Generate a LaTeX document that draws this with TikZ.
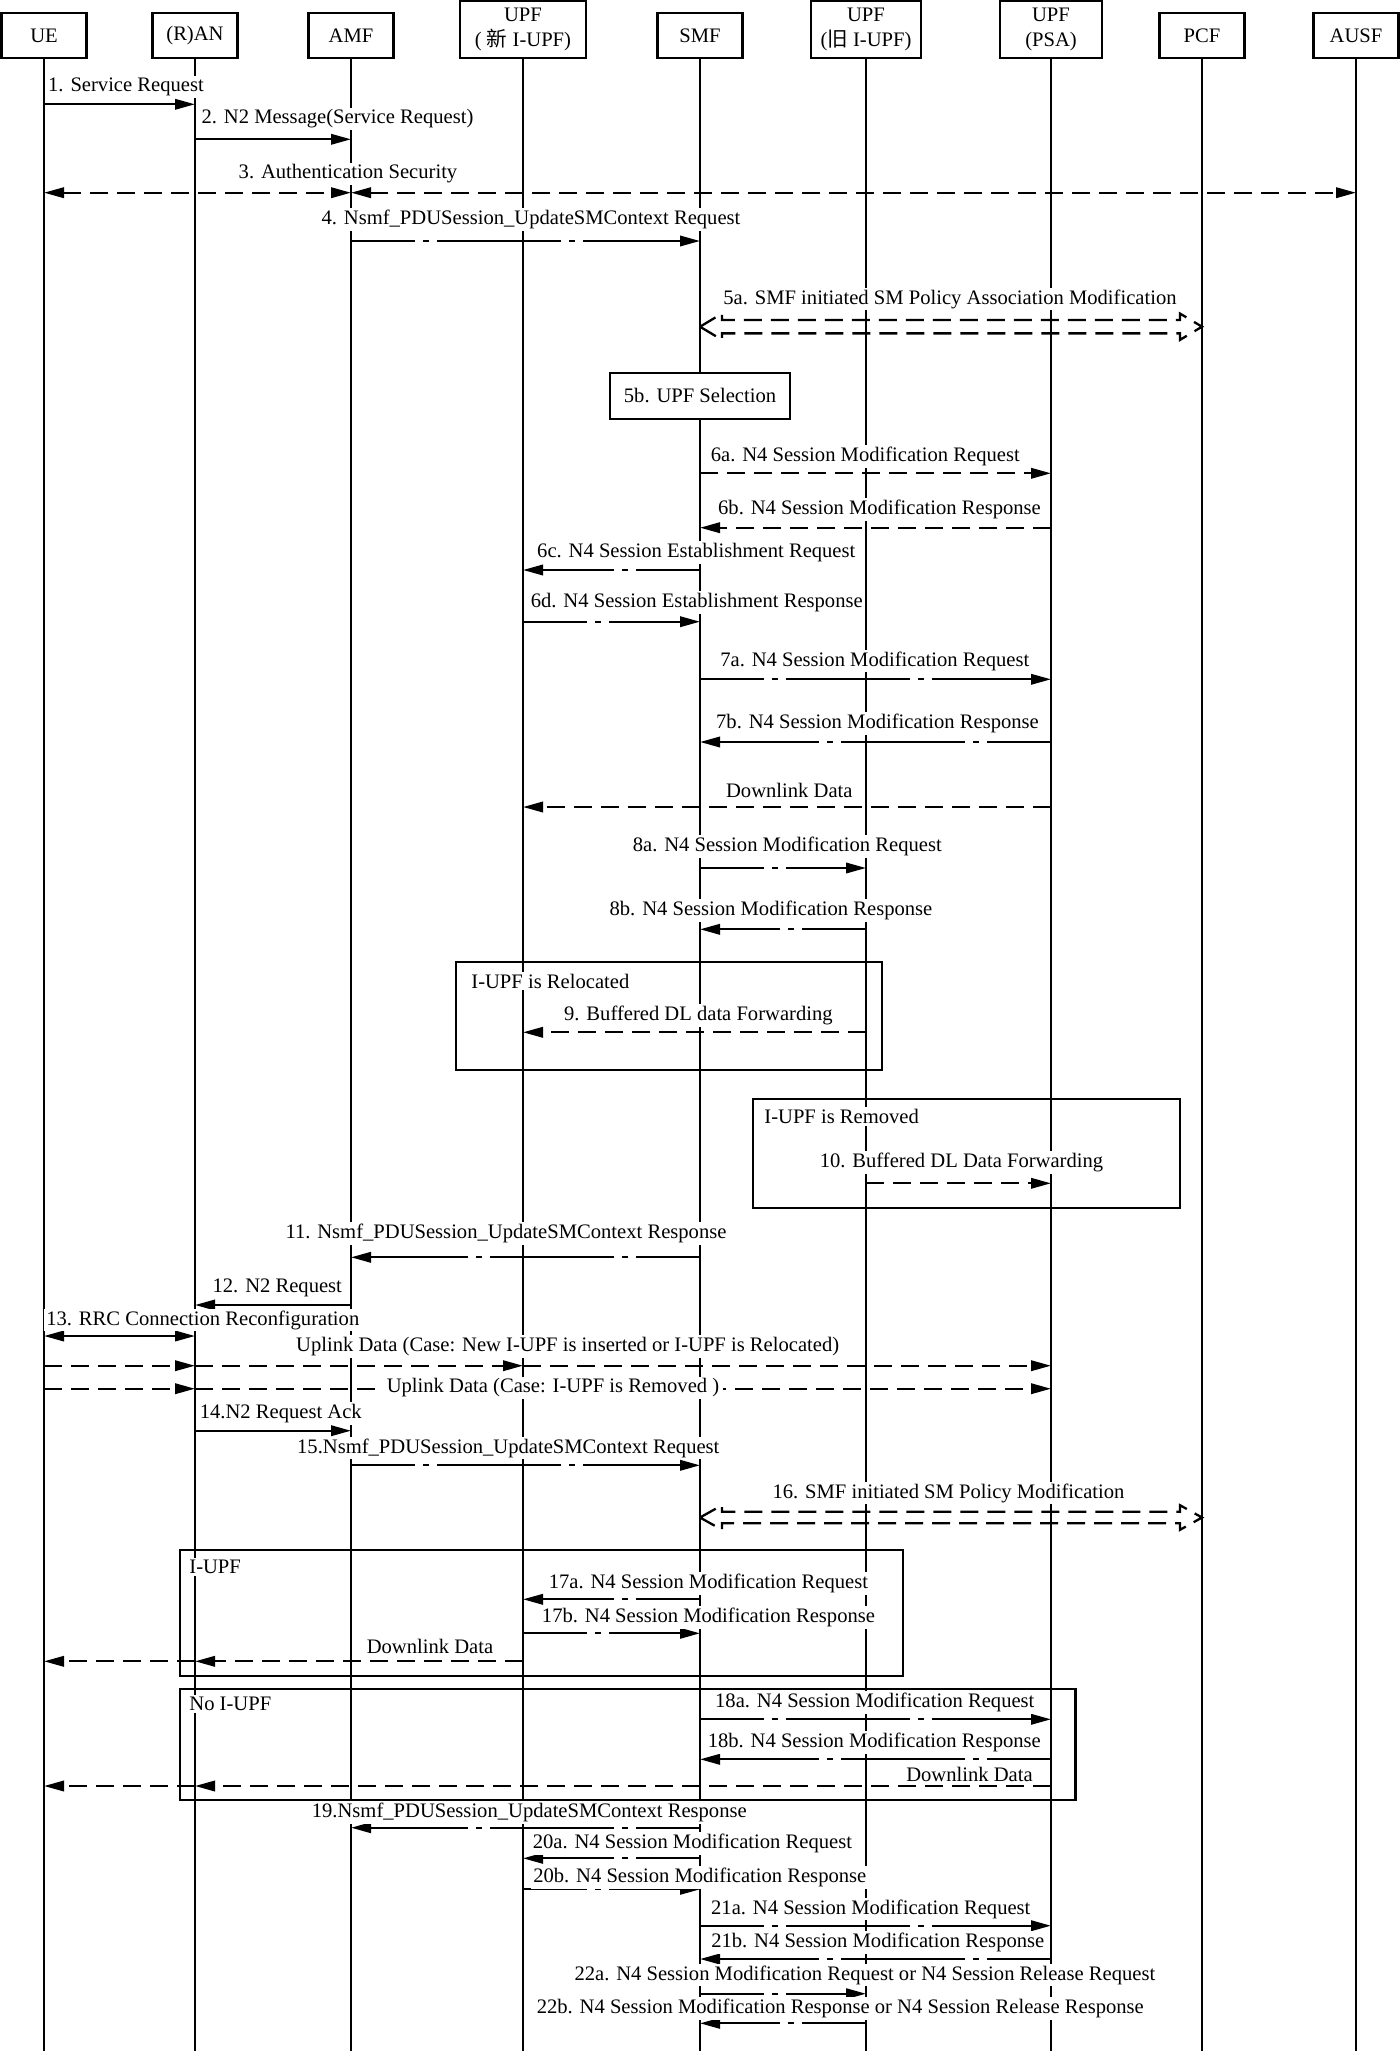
\documentclass[tikz,border=0pt]{standalone}
\usepackage{fontspec}
\setmainfont{Liberation Serif}
\newfontfamily\cjkfont{Noto Sans CJK SC}
\usetikzlibrary{arrows.meta,calc}
\tikzset{
  >={Triangle[length=10pt,width=5.2pt]},
  hdr/.style={draw, line width=1.1pt, fill=white, inner sep=0pt, align=center, minimum width=42.5pt, minimum height=22.2pt},
  tallhdr/.style={hdr, minimum height=28.3pt},
  life/.style={line width=0.9pt},
  msg/.style={line width=1.15pt, ->},
  dsh/.style={msg, dash pattern=on 9pt off 4.5pt},
  dd/.style={msg, dash pattern=on 62pt off 4pt on 3pt off 4pt, dash phase=30pt},
  hol/.style={line width=1.15pt, dash pattern=on 9pt off 4.5pt},
  lbl/.style={fill=white, inner sep=1pt},
  frm/.style={draw, line width=1.1pt},
}
\newcommand\hollowArr[4]{%
  \draw[hol] (#1 |- 0,#3) -- ++(22,{-(#4+6.5)}) -- ++(0,6.5) -- ($(#2 |- 0,#3)+(-22,-#4)$) -- ++(0,-6.5) -- (#2 |- 0,#3) -- ++(-22,{#4+6.5}) -- ++(0,-6.5) -- ($(#1 |- 0,#3)+(22,#4)$) -- ++(0,6.5) -- cycle;}
\begin{document}
\begin{tikzpicture}[x=0.5pt,y=-0.5pt,font=\fontsize{10.3pt}{12.5pt}\selectfont]
\useasboundingbox (0,0) rectangle (1400,2051);
% headers
\node[hdr] (ue) at (44,35.5) {UE};
\node[hdr] (ran) at (195,35.5) {(R)AN};
\node[hdr] (amf) at (351,35.5) {AMF};
\node[tallhdr, minimum width=63pt] (upfn) at (523,29.3) {UPF\\( {\cjkfont 新} I-UPF)};
\node[hdr] (smf) at (700,35.5) {SMF};
\node[tallhdr, minimum width=55pt] (upfo) at (866,29.3) {UPF\\({\cjkfont 旧} I-UPF)};
\node[tallhdr, minimum width=51pt] (psa) at (1051,29.3) {UPF\\(PSA)};
\node[hdr] (pcf) at (1202,35.5) {PCF};
\node[hdr] (ausf) at (1356,35.5) {AUSF};
% lifelines
\foreach \n in {ue,ran,amf,upfn,smf,upfo,psa,pcf,ausf}
  \draw[life] (\n.south) -- (\n |- 0,2051);
% frames
\draw[frm] (456,961.7) rectangle (882,1069.7);
\draw[frm] (753,1099.3) rectangle (1179.6,1207.7);
\draw[frm] (179.6,1550) rectangle (902.8,1676);
\draw[frm] (179.6,1688.7) rectangle (1075.4,1800.3);
\node[draw, line width=1.1pt, fill=white, minimum width=89.7pt, minimum height=23pt] (upfsel) at (smf |- 0,395.7) {5b. UPF Selection};
% messages
\draw[msg] (ue |- 0,104.3) -- (ran |- 0,104.3);
\draw[msg] (ran |- 0,139.3) -- (amf |- 0,139.3);
\draw[dsh,<->] (ue |- 0,192.7) -- (amf |- 0,192.7);
\draw[dsh,<->] (amf |- 0,192.7) -- (ausf |- 0,192.7);
\draw[dd] (amf |- 0,241) -- (smf |- 0,241);
\hollowArr{smf}{pcf}{326.7}{6.65}
\draw[dsh] (smf |- 0,473.3) -- (psa |- 0,473.3);
\draw[dsh] (psa |- 0,527.7) -- (smf |- 0,527.7);
\draw[dd] (smf |- 0,570) -- (upfn |- 0,570);
\draw[dd] (upfn |- 0,621.7) -- (smf |- 0,621.7);
\draw[dd] (smf |- 0,679.3) -- (psa |- 0,679.3);
\draw[dd] (psa |- 0,742) -- (smf |- 0,742);
\draw[dsh] (psa |- 0,807) -- (upfn |- 0,807);
\draw[dd] (smf |- 0,868) -- (upfo |- 0,868);
\draw[dd] (upfo |- 0,929.3) -- (smf |- 0,929.3);
\draw[dsh] (upfo |- 0,1032.3) -- (upfn |- 0,1032.3);
\draw[dsh] (upfo |- 0,1183.3) -- (psa |- 0,1183.3);
\draw[dd] (smf |- 0,1257.3) -- (amf |- 0,1257.3);
\draw[msg] (amf |- 0,1305) -- (ran |- 0,1305);
\draw[msg,<->] (ue |- 0,1336) -- (ran |- 0,1336);
\draw[dsh] (ue |- 0,1365.7) -- (ran |- 0,1365.7);
\draw[dsh] (ran |- 0,1365.7) -- (upfn |- 0,1365.7);
\draw[dsh] (upfn |- 0,1365.7) -- (psa |- 0,1365.7);
\draw[dsh] (ue |- 0,1388.7) -- (ran |- 0,1388.7);
\draw[dsh] (ran |- 0,1388.7) -- (psa |- 0,1388.7);
\draw[msg] (ran |- 0,1430.7) -- (amf |- 0,1430.7);
\draw[dd] (amf |- 0,1465.3) -- (smf |- 0,1465.3);
\hollowArr{smf}{pcf}{1517.5}{5.8}
\draw[dd] (smf |- 0,1599.3) -- (upfn |- 0,1599.3);
\draw[dd] (upfn |- 0,1633.3) -- (smf |- 0,1633.3);
\draw[dsh] (upfn |- 0,1661.3) -- (ran |- 0,1661.3);
\draw[dsh] (ran |- 0,1661.3) -- (ue |- 0,1661.3);
\draw[dd] (smf |- 0,1719.3) -- (psa |- 0,1719.3);
\draw[dd] (psa |- 0,1759.3) -- (smf |- 0,1759.3);
\draw[dsh] (psa |- 0,1786) -- (ran |- 0,1786);
\draw[dsh] (ran |- 0,1786) -- (ue |- 0,1786);
\draw[dd] (smf |- 0,1827.7) -- (amf |- 0,1827.7);
\draw[dd] (smf |- 0,1858.3) -- (upfn |- 0,1858.3);
\draw[dd] (upfn |- 0,1889.3) -- (smf |- 0,1889.3);
\draw[dd] (smf |- 0,1925.7) -- (psa |- 0,1925.7);
\draw[dd] (psa |- 0,1959) -- (smf |- 0,1959);
\draw[dd] (smf |- 0,1993.7) -- (upfo |- 0,1993.7);
\draw[dd] (upfo |- 0,2023.3) -- (smf |- 0,2023.3);
% labels
\node[lbl] (t1) at (126,86.7) {1. Service Request};
\node[lbl] (t2) at (337.5,119) {2. N2 Message(Service Request)};
\node[lbl] (t3) at (348,174) {3. Authentication Security};
\node[lbl] (t4) at (531,219.3) {4. Nsmf\_PDUSession\_UpdateSMContext Request};
\node[lbl] (t5a) at (950,299) {5a. SMF initiated SM Policy Association Modification};
\node[lbl] (t6a) at (865.3,456.7) {6a. N4 Session Modification Request};
\node[lbl] (t6b) at (879.5,509.3) {6b. N4 Session Modification Response};
\node[lbl] (t6c) at (696.3,552.7) {6c. N4 Session Establishment Request};
\node[lbl] (t6d) at (696.8,602.7) {6d. N4 Session Establishment Response};
\node[lbl] (t7a) at (874.8,661) {7a. N4 Session Modification Request};
\node[lbl] (t7b) at (877.5,723.5) {7b. N4 Session Modification Response};
\node[lbl] (tdl1) at (789.3,790.7) {Downlink Data};
\node[lbl] (t8a) at (787.3,846.7) {8a. N4 Session Modification Request};
\node[lbl] (t8b) at (771,910.7) {8b. N4 Session Modification Response};
\node[lbl, anchor=west] (tf1) at (469,981) {I-UPF is Relocated};
\node[lbl] (t9) at (698.4,1015.3) {9. Buffered DL data Forwarding};
\node[lbl, anchor=west] (tf2) at (762,1116.7) {I-UPF is Removed};
\node[lbl] (t10) at (961.5,1162.7) {10. Buffered DL Data Forwarding};
\node[lbl] (t11) at (506,1233.3) {11. Nsmf\_PDUSession\_UpdateSMContext Response};
\node[lbl] (t12) at (277.3,1288.3) {12. N2 Request};
\node[lbl] (t13) at (202.8,1320) {13. RRC Connection Reconfiguration};
\node[lbl] (tul1) at (567.7,1346.7) {Uplink Data (Case: New I-UPF is inserted or I-UPF is Relocated)};
\node[lbl, inner xsep=2pt] (tul2) at (553,1388) {Uplink Data (Case: I-UPF is Removed )};
\node[lbl] (t14) at (280.8,1413.3) {14.N2 Request Ack};
\node[lbl] (t15) at (508.3,1448) {15.Nsmf\_PDUSession\_UpdateSMContext Request};
\node[lbl] (t16) at (948.5,1493) {16. SMF initiated SM Policy Modification};
\node[lbl, anchor=west] (tf3) at (187,1566.7) {I-UPF};
\node[lbl] (t17a) at (708.4,1583.3) {17a. N4 Session Modification Request};
\node[lbl] (t17b) at (708.5,1617.3) {17b. N4 Session Modification Response};
\node[lbl] (tdl2) at (430,1646) {Downlink Data};
\node[lbl, anchor=west] (tf4) at (187,1704) {No I-UPF};
\node[lbl] (t18a) at (874.8,1702.3) {18a. N4 Session Modification Request};
\node[lbl] (t18b) at (874.3,1742.7) {18b. N4 Session Modification Response};
\node[lbl] (tdl3) at (969.5,1774) {Downlink Data};
\node[lbl] (t19) at (529.3,1812.3) {19.Nsmf\_PDUSession\_UpdateSMContext Response};
\node[lbl] (t20a) at (692.4,1843.3) {20a. N4 Session Modification Request};
\node[lbl] (t20b) at (699.8,1877.3) {20b. N4 Session Modification Response};
\node[lbl] (t21a) at (870.8,1909) {21a. N4 Session Modification Request};
\node[lbl] (t21b) at (877.8,1942.3) {21b. N4 Session Modification Response};
\node[lbl] (t22a) at (864.9,1975) {22a. N4 Session Modification Request or N4 Session Release Request};
\node[lbl] (t22b) at (840.3,2008.3) {22b. N4 Session Modification Response or N4 Session Release Response};
\end{tikzpicture}
\end{document}
